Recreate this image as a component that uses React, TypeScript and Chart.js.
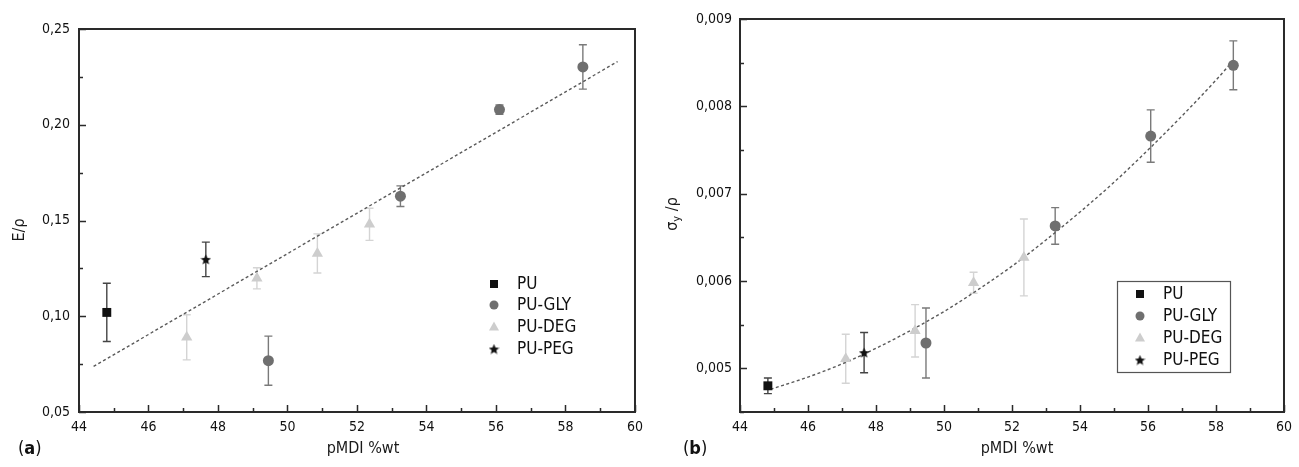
import React, { useEffect, useRef } from "react";
import { Chart, registerables } from "chart.js";
Chart.register(...registerables);

const FONT = "'DejaVu Sans Condensed', 'DejaVu Sans', sans-serif";

// ---------- shared ----------
const seriesLabels = ["PU", "PU-GLY", "PU-DEG", "PU-PEG"];
const xTickValues = [44, 46, 48, 50, 52, 54, 56, 58, 60];
const xMinorValues = [45, 47, 49, 51, 53, 55, 57, 59];
const xTitle = "pMDI %wt";

// ---------- panel (a) : E/rho ----------
const aYTicks = [0.05, 0.1, 0.15, 0.2, 0.25];
const aYMinor = [0.075, 0.125, 0.175, 0.225];
const aPU_x = [44.8];
const aPU_y = [0.102];
const aPU_e = [0.0152];
const aGLY_x = [49.45, 53.25, 56.1, 58.5];
const aGLY_y = [0.0768, 0.1627, 0.2079, 0.2302];
const aGLY_e = [0.0128, 0.0054, 0.0024, 0.0116];
const aDEG_x = [47.1, 49.12, 50.86, 52.36];
const aDEG_y = [0.089, 0.1198, 0.1328, 0.148];
const aDEG_e = [0.0118, 0.0055, 0.0102, 0.0084];
const aPEG_x = [47.65];
const aPEG_y = [0.1297];
const aPEG_e = [0.009];
const aTrend_x = [44.42, 59.5];
const aTrend_y = [0.0738, 0.233];

// ---------- panel (b) : sigma_y/rho ----------
const bYTicks = [0.005, 0.006, 0.007, 0.008, 0.009];
const bYMinor = [0.0045, 0.0055, 0.0065, 0.0075, 0.0085];
const bPU_x = [44.82];
const bPU_y = [0.0048];
const bPU_e = [0.00009];
const bGLY_x = [49.47, 53.27, 56.08, 58.51];
const bGLY_y = [0.00529, 0.00663, 0.00766, 0.00847];
const bGLY_e = [0.0004, 0.00021, 0.0003, 0.00028];
const bDEG_x = [47.11, 49.15, 50.87, 52.35];
const bDEG_y = [0.00511, 0.00543, 0.00598, 0.00627];
const bDEG_e = [0.00028, 0.0003, 0.00012, 0.00044];
const bPEG_x = [47.65];
const bPEG_y = [0.00518];
const bPEG_e = [0.00023];
const bTrend_x = [44.9, 46, 47, 48, 49, 50, 51, 52, 53, 54, 55, 56, 57, 58, 58.5];
const bTrend_y = [0.00476, 0.0049, 0.00505, 0.00523, 0.00543, 0.00565, 0.0059, 0.00617, 0.00647, 0.00679, 0.00713, 0.0075, 0.00789, 0.0083, 0.00852];

// ---------- styles ----------
const COLORS = ["#111111", "#6f6f6f", "#cdcdcd", "#111111"];
const ERR_COLORS = ["#444444", "#7a7a7a", "#d4d4d4", "#444444"];

function makeStar(size: number, color: string) {
  const c = document.createElement("canvas");
  c.width = size;
  c.height = size;
  const ctx = c.getContext("2d")!;
  ctx.fillStyle = color;
  ctx.beginPath();
  const cx = size / 2, cy = size / 2 + 0.6, R = size / 2, r = R * 0.45;
  for (let i = 0; i < 10; i++) {
    const ang = -Math.PI / 2 + (i * Math.PI) / 5;
    const rad = i % 2 === 0 ? R : r;
    const px = cx + rad * Math.cos(ang), py = cy + rad * Math.sin(ang);
    if (i === 0) ctx.moveTo(px, py);
    else ctx.lineTo(px, py);
  }
  ctx.closePath();
  ctx.fill();
  return c;
}

function pts(xs: number[], ys: number[]) {
  return xs.map((x, i) => ({ x, y: ys[i] }));
}

function drawMarker(ctx: CanvasRenderingContext2D, kind: number, x: number, y: number, star: HTMLCanvasElement) {
  ctx.save();
  ctx.fillStyle = COLORS[kind];
  if (kind === 0) {
    ctx.fillRect(x - 4, y - 4, 8, 8);
  } else if (kind === 1) {
    ctx.beginPath();
    ctx.arc(x, y, 4.5, 0, Math.PI * 2);
    ctx.fill();
  } else if (kind === 2) {
    ctx.beginPath();
    ctx.moveTo(x, y - 5.5);
    ctx.lineTo(x + 5, y + 3.5);
    ctx.lineTo(x - 5, y + 3.5);
    ctx.closePath();
    ctx.fill();
  } else {
    ctx.drawImage(star, x - star.width / 2, y - star.height / 2);
  }
  ctx.restore();
}

type Spec = {
  yMin: number;
  yMax: number;
  yTicks: number[];
  yMinor: number[];
  yDecimals: number;
  padding: { top: number; right: number; left: number; bottom: number };
  yAxisWidth: number;
  yTickPad: number;
  series: { xs: number[]; ys: number[]; es: number[] }[];
  trendX: number[];
  trendY: number[];
  curved: boolean;
  legend: { markerX: number; textX: number; rows: number[]; box: null | { x: number; y: number; w: number; h: number } };
  panel: { label: string; x: number; y: number };
  yTitle: (ctx: CanvasRenderingContext2D) => void;
  xTitleShift: number;
};

function buildChart(canvas: HTMLCanvasElement, spec: Spec) {
  const star = makeStar(11, "#111111");
  const styles: any[] = ["rect", "circle", "triangle", star];
  const radii = [6.3, 5.5, 6.5, 5];

  const datasets: any[] = spec.series.map((s, i) => ({
    label: seriesLabels[i],
    data: pts(s.xs, s.ys),
    errors: s.es,
    errColor: ERR_COLORS[i],
    pointStyle: styles[i],
    pointRadius: radii[i],
    pointBackgroundColor: COLORS[i],
    pointBorderColor: COLORS[i],
    pointBorderWidth: 0,
    showLine: false,
    order: 1,
  }));
  datasets.push({
    label: "fit",
    data: pts(spec.trendX, spec.trendY),
    showLine: true,
    pointRadius: 0,
    borderColor: "#5a5a5a",
    borderWidth: 1.4,
    borderDash: [3, 2.5],
    cubicInterpolationMode: spec.curved ? "monotone" : "default",
    tension: spec.curved ? 0.4 : 0,
    order: 10,
  });

  const fmt = (v: number) => v.toFixed(spec.yDecimals).replace(".", ",");

  const errorPlugin = {
    id: "errbars",
    beforeDatasetsDraw(chart: any) {
      const ctx = chart.ctx;
      const xs = chart.scales.x, ys = chart.scales.y;
      chart.data.datasets.forEach((ds: any) => {
        if (!ds.errors) return;
        ctx.save();
        ctx.strokeStyle = ds.errColor;
        ctx.lineWidth = 1.4;
        ds.data.forEach((p: any, i: number) => {
          const px = xs.getPixelForValue(p.x);
          const y1 = ys.getPixelForValue(p.y + ds.errors[i]);
          const y2 = ys.getPixelForValue(p.y - ds.errors[i]);
          ctx.beginPath();
          ctx.moveTo(px, y1);
          ctx.lineTo(px, y2);
          ctx.moveTo(px - 4, y1);
          ctx.lineTo(px + 4, y1);
          ctx.moveTo(px - 4, y2);
          ctx.lineTo(px + 4, y2);
          ctx.stroke();
        });
        ctx.restore();
      });
    },
  };

  const overlayPlugin = {
    id: "overlay",
    afterDraw(chart: any) {
      const ctx: CanvasRenderingContext2D = chart.ctx;
      const { left, right, top, bottom } = chart.chartArea;
      const xs = chart.scales.x, ys = chart.scales.y;
      ctx.save();
      // frame
      ctx.strokeStyle = "#2a2a2a";
      ctx.lineWidth = 2;
      ctx.strokeRect(left, top, right - left, bottom - top);
      // inward ticks
      ctx.lineWidth = 1.5;
      ctx.beginPath();
      xTickValues.forEach((v) => {
        const px = Math.round(xs.getPixelForValue(v)) + 0.5;
        ctx.moveTo(px, bottom);
        ctx.lineTo(px, bottom - 7);
      });
      xMinorValues.forEach((v) => {
        const px = Math.round(xs.getPixelForValue(v)) + 0.5;
        ctx.moveTo(px, bottom);
        ctx.lineTo(px, bottom - 4);
      });
      spec.yTicks.forEach((v) => {
        const py = Math.round(ys.getPixelForValue(v)) + 0.5;
        ctx.moveTo(left, py);
        ctx.lineTo(left + 7, py);
      });
      spec.yMinor.forEach((v) => {
        const py = Math.round(ys.getPixelForValue(v)) + 0.5;
        ctx.moveTo(left, py);
        ctx.lineTo(left + 4, py);
      });
      ctx.stroke();

      // x title
      ctx.fillStyle = "#1a1a1a";
      ctx.font = `16px ${FONT}`;
      ctx.textAlign = "center";
      ctx.textBaseline = "middle";
      ctx.fillText(xTitle, (left + right) / 2 + spec.xTitleShift, 449);

      // y title
      spec.yTitle(ctx);

      // panel label
      ctx.fillStyle = "#111";
      ctx.textAlign = "left";
      ctx.textBaseline = "middle";
      let px = spec.panel.x;
      ctx.font = `18px ${FONT}`;
      ctx.fillText("(", px, spec.panel.y);
      px += ctx.measureText("(").width;
      ctx.font = `bold 18px ${FONT}`;
      ctx.fillText(spec.panel.label, px, spec.panel.y);
      px += ctx.measureText(spec.panel.label).width;
      ctx.font = `18px ${FONT}`;
      ctx.fillText(")", px, spec.panel.y);

      // legend
      const lg = spec.legend;
      if (lg.box) {
        ctx.strokeStyle = "#555";
        ctx.lineWidth = 1.2;
        ctx.strokeRect(lg.box.x + 0.5, lg.box.y + 0.5, lg.box.w, lg.box.h);
      }
      ctx.font = `17px ${FONT}`;
      lg.rows.forEach((ry, i) => {
        drawMarker(ctx, i, lg.markerX, ry, star);
        ctx.fillStyle = "#111";
        ctx.fillText(seriesLabels[i], lg.textX, ry + 1);
      });
      ctx.restore();
    },
  };

  return new Chart(canvas, {
    type: "scatter",
    data: { datasets },
    options: {
      animation: false,
      responsive: false,
      maintainAspectRatio: false,
      layout: { padding: spec.padding },
      plugins: { legend: { display: false }, tooltip: { enabled: false } },
      scales: {
        x: {
          type: "linear",
          min: 44,
          max: 60,
          afterBuildTicks: (s: any) => {
            s.ticks = xTickValues.map((v) => ({ value: v }));
          },
          afterFit: (s: any) => {
            s.height = 55;
          },
          grid: { display: false, drawTicks: false },
          border: { display: false },
          ticks: {
            autoSkip: false,
            maxRotation: 0,
            padding: 7,
            color: "#111",
            font: { family: FONT, size: 14 },
            callback: (v: any) => String(v),
          },
        },
        y: {
          type: "linear",
          min: spec.yMin,
          max: spec.yMax,
          afterBuildTicks: (s: any) => {
            s.ticks = spec.yTicks.map((v) => ({ value: v }));
          },
          afterFit: (s: any) => {
            s.width = spec.yAxisWidth;
          },
          grid: { display: false, drawTicks: false },
          border: { display: false },
          ticks: {
            autoSkip: false,
            padding: spec.yTickPad,
            color: "#111",
            font: { family: FONT, size: 14 },
            callback: (v: any) => fmt(Number(v)),
          },
        },
      },
    } as any,
    plugins: [errorPlugin, overlayPlugin],
  });
}

function Panel(props: { spec: Spec; left: number; width: number }) {
  const ref = useRef<HTMLCanvasElement | null>(null);
  useEffect(() => {
    if (!ref.current) return;
    const ch = buildChart(ref.current, props.spec);
    return () => ch.destroy();
  }, []);
  return (
    <canvas
      ref={ref}
      width={props.width}
      height={467}
      style={{ position: "absolute", left: props.left, top: 0, width: props.width, height: 467 }}
    />
  );
}

const specA: Spec = {
  yMin: 0.05,
  yMax: 0.25,
  yTicks: aYTicks,
  yMinor: aYMinor,
  yDecimals: 2,
  padding: { top: 29, right: 13, left: 0, bottom: 0 },
  yAxisWidth: 79,
  yTickPad: 9,
  series: [
    { xs: aPU_x, ys: aPU_y, es: aPU_e },
    { xs: aGLY_x, ys: aGLY_y, es: aGLY_e },
    { xs: aDEG_x, ys: aDEG_y, es: aDEG_e },
    { xs: aPEG_x, ys: aPEG_y, es: aPEG_e },
  ],
  trendX: aTrend_x,
  trendY: aTrend_y,
  curved: false,
  legend: { markerX: 494, textX: 517, rows: [284, 305, 327, 349], box: null },
  panel: { label: "a", x: 18, y: 449 },
  yTitle: (ctx) => {
    ctx.save();
    ctx.translate(20, 230);
    ctx.rotate(-Math.PI / 2);
    ctx.font = `16px ${FONT}`;
    ctx.fillStyle = "#1a1a1a";
    ctx.textAlign = "center";
    ctx.textBaseline = "middle";
    ctx.fillText("E/ρ", 0, 0);
    ctx.restore();
  },
  xTitleShift: 6,
};

const specB: Spec = {
  yMin: 0.0045,
  yMax: 0.009,
  yTicks: bYTicks,
  yMinor: bYMinor,
  yDecimals: 3,
  padding: { top: 19, right: 6, left: 0, bottom: 0 },
  yAxisWidth: 90,
  yTickPad: 8,
  series: [
    { xs: bPU_x, ys: bPU_y, es: bPU_e },
    { xs: bGLY_x, ys: bGLY_y, es: bGLY_e },
    { xs: bDEG_x, ys: bDEG_y, es: bDEG_e },
    { xs: bPEG_x, ys: bPEG_y, es: bPEG_e },
  ],
  trendX: bTrend_x,
  trendY: bTrend_y,
  curved: true,
  legend: { markerX: 490, textX: 513, rows: [294, 316, 338, 360], box: { x: 467, y: 281, w: 113, h: 91 } },
  panel: { label: "b", x: 33, y: 449 },
  yTitle: (ctx) => {
    ctx.save();
    ctx.translate(23, 214);
    ctx.rotate(-Math.PI / 2);
    ctx.fillStyle = "#1a1a1a";
    ctx.textBaseline = "middle";
    ctx.textAlign = "left";
    const s1 = "σ";
    const s3 = " /ρ";
    ctx.font = `16px ${FONT}`;
    const w1 = ctx.measureText(s1).width;
    const w3 = ctx.measureText(s3).width;
    ctx.font = `11px ${FONT}`;
    const w2 = ctx.measureText("y").width;
    let x = -(w1 + w2 + w3) / 2;
    ctx.font = `16px ${FONT}`;
    ctx.fillText(s1, x, 0);
    x += w1;
    ctx.font = `11px ${FONT}`;
    ctx.fillText("y", x, 4);
    x += w2;
    ctx.font = `16px ${FONT}`;
    ctx.fillText(s3, x, 0);
    ctx.restore();
  },
  xTitleShift: 5,
};

export default function App() {
  return (
    <div style={{ position: "absolute", left: 0, top: 0, width: 1299, height: 467, background: "#fff", overflow: "hidden" }}>
      <Panel spec={specA} left={0} width={650} />
      <Panel spec={specB} left={650} width={649} />
    </div>
  );
}
